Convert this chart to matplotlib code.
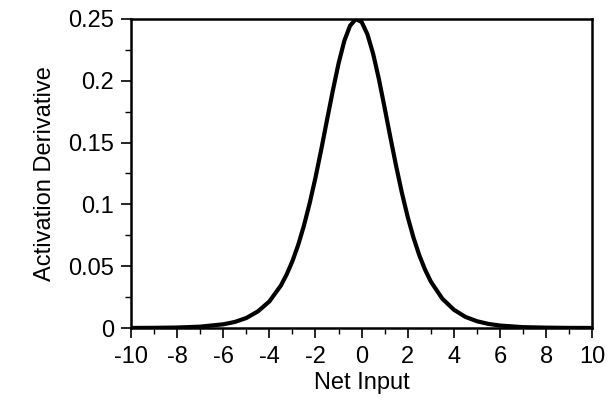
import matplotlib
matplotlib.use("Agg")
import matplotlib.pyplot as plt
from matplotlib.ticker import MultipleLocator

# Values
net_input = [-10, -9, -8, -7, -6, -5.5, -5, -4.5, -4, -3.5, -3.25, -3, -2.75, -2.5,
             -2.25, -2, -1.75, -1.5, -1.25, -1, -0.75, -0.5, -0.25, 0, 0.25, 0.5,
             0.75, 1, 1.25, 1.5, 1.75, 2, 2.25, 2.5, 2.75, 3, 3.5, 4, 4.5, 5, 5.5,
             6, 7, 8, 9, 10]
derivative = [0.00006, 0.00015, 0.0004, 0.0011, 0.0030, 0.0049, 0.0081, 0.0134,
              0.0215, 0.0344, 0.0433, 0.0541, 0.0672, 0.0829, 0.1011, 0.1217,
              0.1444, 0.1683, 0.1918, 0.2139, 0.2322, 0.2445, 0.2498, 0.2475,
              0.2376, 0.2217, 0.2012, 0.1779, 0.1539, 0.1306, 0.1090, 0.0897,
              0.0730, 0.0589, 0.0472, 0.0376, 0.0237, 0.0148, 0.0090, 0.0055,
              0.0033, 0.0020, 0.0007, 0.0003, 0.0001, 0.00004]
x_ticks = [-10, -8, -6, -4, -2, 0, 2, 4, 6, 8, 10]
y_ticks = [0, 0.05, 0.1, 0.15, 0.2, 0.25]
y_tick_labels = ["0", "0.05", "0.1", "0.15", "0.2", "0.25"]

plt.rcParams['font.family'] = ['Liberation Sans', 'DejaVu Sans']

fig = plt.figure(figsize=(6.15, 4.01), dpi=100)
ax = fig.add_axes([0.213, 0.182, 0.75, 0.771])
ax.plot(net_input, derivative, color='black', lw=3.0, solid_joinstyle='round',
        solid_capstyle='round')
ax.set_xlim(-10, 10)
ax.set_ylim(0, 0.25)
ax.set_xticks(x_ticks)
ax.set_xticklabels([str(t) for t in x_ticks])
ax.set_yticks(y_ticks)
ax.set_yticklabels(y_tick_labels)
ax.xaxis.set_minor_locator(MultipleLocator(1))
ax.yaxis.set_minor_locator(MultipleLocator(0.025))
ax.tick_params(which='major', direction='out', length=7, width=1.2, labelsize=17,
               colors='black')
ax.tick_params(axis='x', which='major', pad=6)
ax.tick_params(axis='y', which='major', pad=5)
ax.tick_params(which='minor', direction='out', length=4, width=1.0)
ax.tick_params(top=False, right=False)
for s in ax.spines.values():
    s.set_linewidth(1.8)
ax.set_xlabel("Net Input", fontsize=17, labelpad=3)
ax.set_ylabel("Activation Derivative", fontsize=17, labelpad=9)
fig.savefig("out.png", dpi=100)
